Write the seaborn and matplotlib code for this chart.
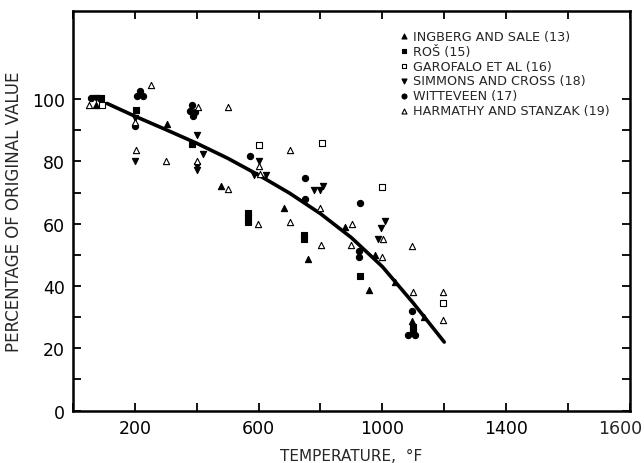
import matplotlib
matplotlib.use("Agg")
import matplotlib.pyplot as plt
import seaborn as sns
import pandas as pd

# ---- data (temperature in deg F, percentage of original value) ----
INGBERG_T = [74, 303, 478, 683, 758, 879, 958, 976, 1041, 1095, 1134]
INGBERG_V = [98.2, 92.1, 72.1, 65.0, 48.7, 58.9, 38.8, 49.8, 41.4, 28.9, 30.0]

ROS_T = [91, 203, 386, 565, 565, 565, 748, 748, 928, 1100, 1100]
ROS_V = [100.4, 96.4, 85.7, 63.5, 62.0, 60.5, 56.5, 55.0, 43.3, 26.7, 25.6]

GAROFALO_T = [94, 600, 804, 998, 1195]
GAROFALO_V = [98.2, 85.2, 86.0, 71.8, 34.5]

SIMMONS_T = [74, 200, 201, 400, 421, 400, 400, 600, 585, 624, 780, 800, 809, 1008, 996, 985]
SIMMONS_V = [100.4, 94.0, 80.1, 88.4, 82.5, 78.5, 77.2, 80.0, 75.7, 75.7, 70.9, 70.7, 72.1, 61.0, 58.6, 55.1]

WITTEVEEN_T = [57, 216, 208, 225, 200, 383, 378, 393, 389, 572, 750, 750, 928, 925, 925, 1095, 1083, 1107]
WITTEVEEN_V = [100.4, 102.5, 100.9, 100.9, 91.4, 98.0, 96.2, 95.9, 94.6, 81.8, 74.7, 67.8, 66.7, 51.2, 49.3, 31.9, 24.4, 24.4]

HARMATHY_T = [53, 252, 200, 203, 300, 405, 400, 500, 500, 604, 600, 598, 701, 701, 800, 801, 903, 900, 1001, 998, 1097, 1098, 1197, 1197]
HARMATHY_V = [98.2, 104.4, 92.7, 83.5, 80.0, 97.6, 80.0, 71.0, 97.3, 76.0, 78.5, 60.0, 83.5, 60.5, 65.1, 53.0, 60.0, 53.0, 55.1, 49.3, 52.8, 38.2, 38.2, 29.1]

CURVE_T = [110, 200, 300, 400, 500, 600, 700, 800, 900, 1000, 1100, 1200]
CURVE_V = [98.6, 94.5, 90.2, 85.8, 81.0, 75.6, 69.8, 63.2, 55.5, 46.2, 34.5, 22.0]

SERIES_LABELS = ["INGBERG AND SALE (13)", "ROŠ (15)", "GAROFALO ET AL (16)",
                 "SIMMONS AND CROSS (18)", "WITTEVEEN (17)", "HARMATHY AND STANZAK (19)"]

X_TICKS = [0, 200, 400, 600, 800, 1000, 1200, 1400, 1600, 1800]
X_TICK_LABELS = ["", "200", "", "600", "", "1000", "", "1400", "", ""]
X_EDGE_LABEL = "1600"          # printed at the right edge of the axis
Y_TICKS = [0, 10, 20, 30, 40, 50, 60, 70, 80, 90, 100]
Y_TICK_LABELS = ["0", "", "20", "", "40", "", "60", "", "80", "", "100"]

# ---- plotting ----
sns.set_theme(style="ticks")
plt.rcParams["font.family"] = ["DejaVu Sans"]

fig = plt.figure(figsize=(6.44, 4.64), dpi=100)
ax = fig.add_axes([0.1134, 0.113, 0.8646, 0.862])

curve = pd.DataFrame({"T": CURVE_T, "V": CURVE_V})
sns.lineplot(data=curve, x="T", y="V", ax=ax, color="black", linewidth=2.6,
             zorder=2, legend=False)

series = [
    (INGBERG_T, INGBERG_V, "^", "black"),
    (ROS_T, ROS_V, "s", "black"),
    (GAROFALO_T, GAROFALO_V, "s", "white"),
    (SIMMONS_T, SIMMONS_V, "v", "black"),
    (WITTEVEEN_T, WITTEVEEN_V, "o", "black"),
    (HARMATHY_T, HARMATHY_V, "^", "white"),
]
for (t, v, m, fc), lab in zip(series, SERIES_LABELS):
    df = pd.DataFrame({"T": t, "V": v})
    sns.scatterplot(data=df, x="T", y="V", ax=ax, marker=m, s=20,
                    color=fc, edgecolor="black", linewidth=0.8,
                    label=lab, zorder=3)

ax.set_xlim(0, 1800)
ax.set_ylim(0, 128.4)
ax.set_xticks(X_TICKS)
ax.set_xticklabels(X_TICK_LABELS)
ax.set_yticks(Y_TICKS)
ax.set_yticklabels(Y_TICK_LABELS)

for lbl in ax.get_xticklabels() + ax.get_yticklabels():
    lbl.set_fontsize(12.5)

ax.annotate(X_EDGE_LABEL, xy=(X_TICKS[-1], 0), xycoords=("data", "axes fraction"),
            xytext=(-7, -6), textcoords="offset points", ha="center", va="top",
            fontsize=12.5, annotation_clip=False)

ax.tick_params(axis="both", which="both", direction="in", length=6, width=1.3,
               top=True, right=True, colors="black", pad=6)

for sp in ax.spines.values():
    sp.set_visible(True)
    sp.set_linewidth(1.8)
    sp.set_color("black")

ax.set_xlabel("TEMPERATURE,  °F", fontsize=11, labelpad=8)
ax.set_ylabel("PERCENTAGE OF ORIGINAL VALUE", fontsize=12, labelpad=6)

leg = ax.legend(loc="upper left", bbox_to_anchor=(0.578, 0.965), frameon=False,
                fontsize=9.2, handlelength=0.6, handletextpad=0.4,
                labelspacing=0.15, borderaxespad=0, markerscale=0.8)

fig.savefig("out.png", dpi=100)
